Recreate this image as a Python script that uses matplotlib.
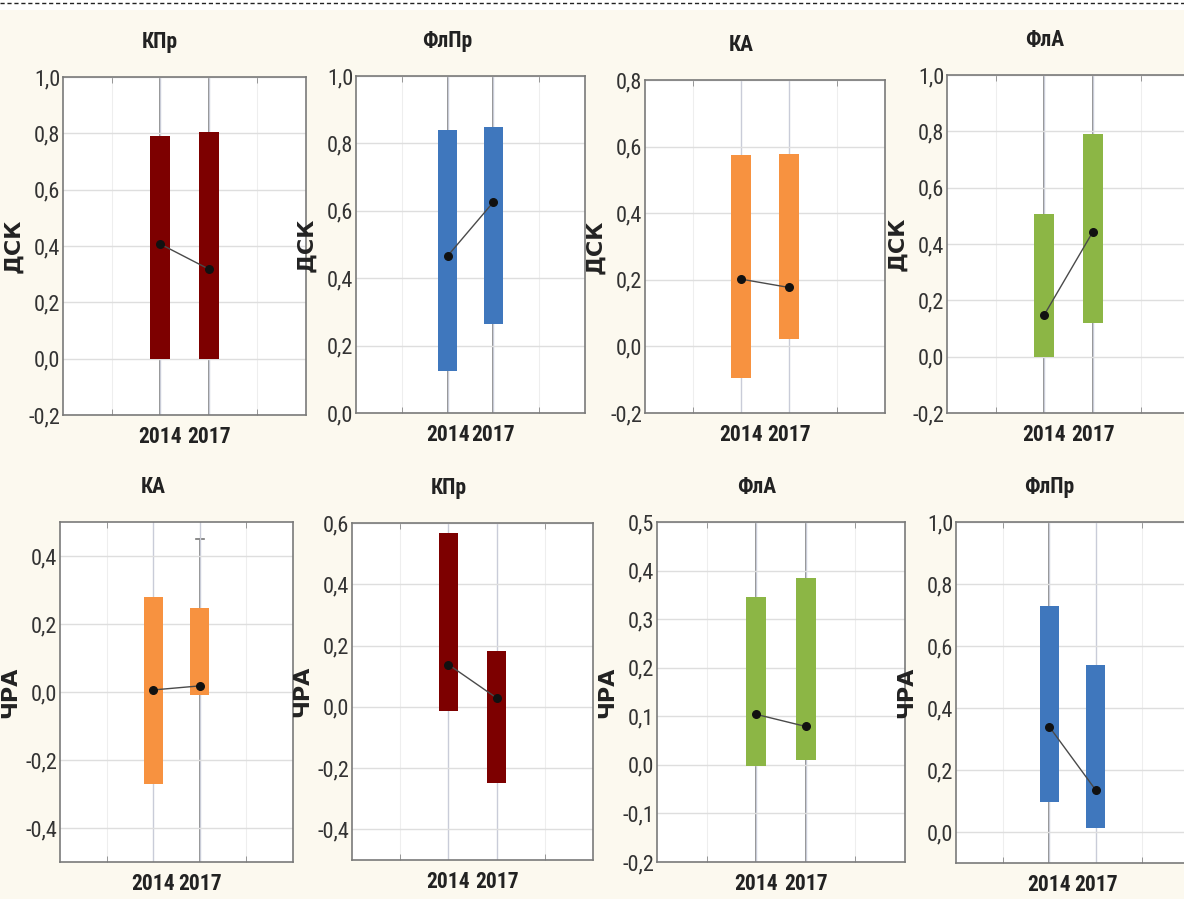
import matplotlib
matplotlib.use("Agg")
import matplotlib.pyplot as plt
from matplotlib.lines import Line2D
from matplotlib.patches import Rectangle
from matplotlib.ticker import FixedLocator, FuncFormatter

# --- data ---
years = ["2014", "2017"]
panel_titles = ["КПр", "ФлПр", "КА", "ФлА", "КА", "КПр", "ФлА", "ФлПр"]
panel_ylabels = ["ДСК", "ДСК", "ДСК", "ДСК", "ЧРА", "ЧРА", "ЧРА", "ЧРА"]
box_low = [[0.0, 0.0], [0.125, 0.265], [-0.095, 0.022], [0.0, 0.12],
           [-0.27, -0.01], [-0.015, -0.25], [-0.003, 0.011], [0.097, 0.014]]
box_high = [[0.79, 0.805], [0.84, 0.85], [0.575, 0.578], [0.505, 0.79],
            [0.28, 0.247], [0.567, 0.181], [0.346, 0.384], [0.728, 0.54]]
means = [[0.407, 0.318], [0.466, 0.626], [0.202, 0.177], [0.148, 0.443],
         [0.006, 0.018], [0.138, 0.029], [0.104, 0.079], [0.34, 0.135]]
# whisker (low, high) per year, None where no whisker is drawn
whiskers = [[(-0.2, 1.0), (-0.2, 1.0)], [(0.0, 1.0), (0.0, 1.0)], [None, None],
            [(-0.2, 1.0), (-0.2, 1.0)], [None, (-0.5, 0.45)], [None, None],
            [(-0.2, 0.5), (-0.2, 0.5)], [(-0.1, 1.0), None]]
y_limits = [(-0.2, 1.0), (0.0, 1.0), (-0.2, 0.8), (-0.2, 1.0),
            (-0.5, 0.5), (-0.5, 0.6), (-0.2, 0.5), (-0.1, 1.0)]
y_ticks = [[-0.2, 0.0, 0.2, 0.4, 0.6, 0.8, 1.0],
           [0.0, 0.2, 0.4, 0.6, 0.8, 1.0],
           [-0.2, 0.0, 0.2, 0.4, 0.6, 0.8],
           [-0.2, 0.0, 0.2, 0.4, 0.6, 0.8, 1.0],
           [-0.4, -0.2, 0.0, 0.2, 0.4],
           [-0.4, -0.2, 0.0, 0.2, 0.4, 0.6],
           [-0.2, -0.1, 0.0, 0.1, 0.2, 0.3, 0.4, 0.5],
           [0.0, 0.2, 0.4, 0.6, 0.8, 1.0]]

DARKRED, BLUE, ORANGE, GREEN = "#7d0000", "#3f77bd", "#f79240", "#8cb645"
box_colors = [DARKRED, BLUE, ORANGE, GREEN, ORANGE, DARKRED, GREEN, BLUE]

# axes boxes in pixels: left, top, right, bottom
W, H = 1184, 899
axes_px = [(63, 77, 306, 415), (356, 76, 585, 413), (645, 80, 885, 413), (947, 75, 1190, 413),
           (60, 522, 293, 862), (352, 523, 593, 860), (657, 522, 905, 862), (956, 522, 1189, 863)]

# condensed faces first if present, otherwise Arial-like Liberation Sans
plt.rcParams["font.family"] = ["Roboto Condensed", "Liberation Sans Narrow",
                               "Liberation Sans", "DejaVu Sans"]

BG = "#fcf9ef"
fig = plt.figure(figsize=(W / 100, H / 100), dpi=100, facecolor=BG)
fig.add_artist(Rectangle((0, 1 - 10 / H), 1, 10 / H, transform=fig.transFigure,
                         facecolor="white", edgecolor="none", zorder=0))
fig.add_artist(Line2D([0, 1], [1 - 3 / H, 1 - 3 / H], transform=fig.transFigure,
                      color="#222222", lw=1.0, ls=(0, (3, 2))))

fmt = FuncFormatter(lambda v, _: ("%.1f" % v).replace(".", ",").replace("-0,0", "0,0"))
xpos = [1, 2]

for i, (l, t, r, b) in enumerate(axes_px):
    ax = fig.add_axes([l / W, 1 - b / H, (r - l) / W, (b - t) / H])
    ax.set_facecolor("white")
    ax.set_xlim(-1, 4)
    ax.set_ylim(*y_limits[i])

    # grid
    ax.yaxis.set_major_locator(FixedLocator(y_ticks[i]))
    ax.yaxis.set_major_formatter(fmt)
    ax.grid(axis="y", color="#dedede", lw=1.0, zorder=0)
    ax.set_xticks(xpos)
    ax.set_xticklabels(years)
    ax.set_xticks([0, 3], minor=True)
    ax.grid(axis="x", which="major", color="#c9ccd8", lw=1.0, zorder=0)
    ax.grid(axis="x", which="minor", color="#eeeeee", lw=0.8, zorder=0)

    # whiskers
    for x, wk in zip(xpos, whiskers[i]):
        if wk is None:
            continue
        ax.plot([x, x], wk, color="#777777", lw=1.2, zorder=1)
        ax.plot([x - 0.08, x + 0.08], [wk[1], wk[1]], color="#777777", lw=1.2, zorder=1)

    # boxes
    lows, highs = box_low[i], box_high[i]
    ax.bar(xpos, [h - lo for lo, h in zip(lows, highs)], bottom=lows, width=0.4,
           color=box_colors[i], edgecolor="none", zorder=2)

    # means
    ax.plot(xpos, means[i], color="#4a4a4a", lw=1.0, zorder=3)
    ax.scatter(xpos, means[i], s=30, color="#111111", zorder=4)

    for sp in ax.spines.values():
        sp.set_color("#7a7a7a")
        sp.set_linewidth(1.2)

    ax.tick_params(axis="y", length=0, pad=2, labelsize=16, labelcolor="#333333")
    ax.tick_params(axis="x", which="major", length=0, pad=8, labelsize=15.5, labelcolor="#222222")
    ax.tick_params(axis="x", which="minor", direction="in", length=4, color="#888888",
                   top=True, bottom=True)
    for lab in ax.get_xticklabels():
        lab.set_fontweight("bold")

    ax.set_ylabel(panel_ylabels[i], family=["DejaVu Sans"],
                  fontweight="bold", fontsize=16, color="#222222")
    ax.yaxis.set_label_coords(-40 / (r - l), 0.5)

    ax.annotate(panel_titles[i], xy=(0.4, 1.0), xycoords="axes fraction",
                xytext=(0, 35), textcoords="offset pixels", ha="center", va="center",
                fontsize=15.5, fontweight="bold", color="#222222")

fig.savefig("out.png", dpi=100, facecolor=BG)
